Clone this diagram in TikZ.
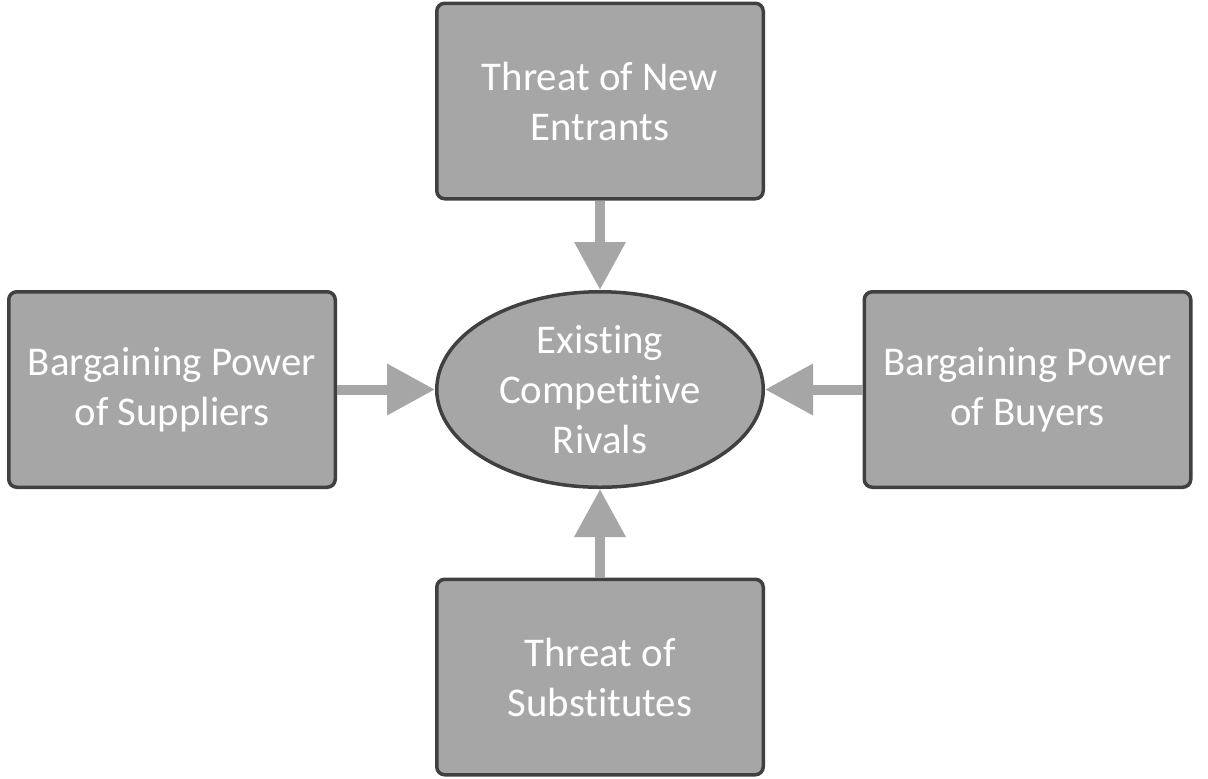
\documentclass[tikz,border=0pt]{standalone}
\usepackage{fontspec}
\setmainfont{Carlito}[Ligatures={NoCommon}]
\usetikzlibrary{arrows.meta,shapes.geometric}
\definecolor{boxfill}{HTML}{A6A6A6}
\definecolor{boxline}{HTML}{404040}
\begin{document}
\begin{tikzpicture}[x=0.5pt, y=-0.5pt,
  every node/.style={text=white, font=\fontsize{20.4}{25}\selectfont, align=center},
  force/.style={rectangle, rounded corners=4pt, draw=boxline, fill=boxfill, line width=1.75pt, minimum width=163.25pt, minimum height=97.75pt, inner sep=0pt},
  rival/.style={ellipse, draw=boxline, fill=boxfill, line width=1.75pt, minimum width=163.25pt, minimum height=97.75pt, inner xsep=0pt, inner ysep=-3pt},
  push/.style={draw=boxfill, line width=5pt, -{Triangle[width=24.5pt, length=24pt]}}]
  \useasboundingbox (0,0) rectangle (1208,778);
  \node[rival] (R) at (600, 389.5) {Existing\\Competitive\\Rivals};
  \node[force] (N) at (600, 101) {Threat of New\\Entrants};
  \node[force] (S) at (172, 389.5) {Bargaining Power\\of Suppliers};
  \node[force] (B) at (1027.5, 389.5) {Bargaining Power\\of Buyers};
  \node[force] (T) at (600, 677) {Threat of\\Substitutes};
  \draw[push] (N) -- (R);
  \draw[push] (S) -- (R);
  \draw[push] (B) -- (R);
  \draw[push] (T) -- (R);
\end{tikzpicture}
\end{document}
